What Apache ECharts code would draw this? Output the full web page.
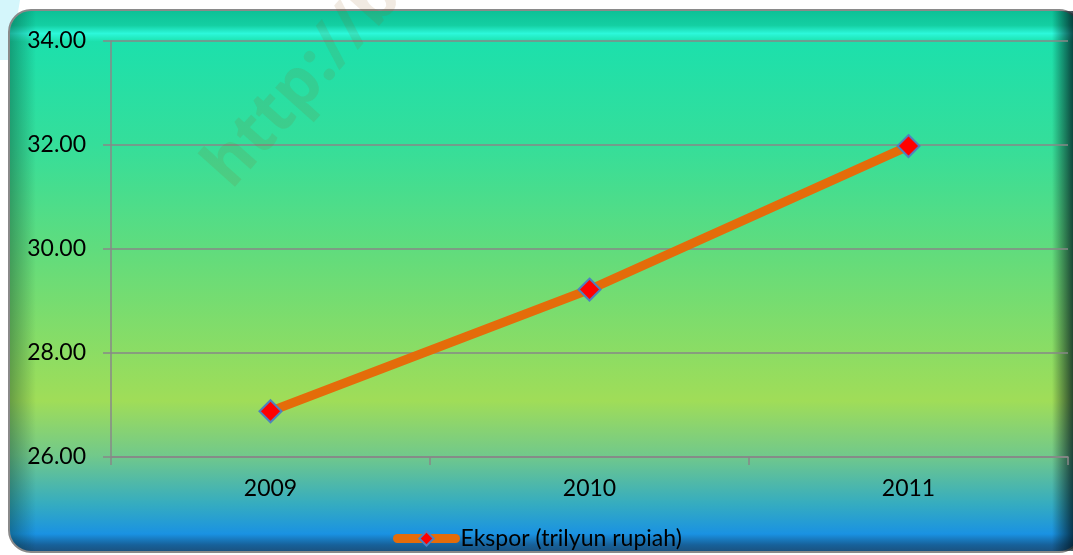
<!DOCTYPE html>
<html>
<head>
<meta charset="utf-8">
<script src="https://cdn.jsdelivr.net/npm/echarts@6/dist/echarts.min.js"></script>
<style>
html,body{margin:0;padding:0;background:#fff;}
#c{width:1073px;height:555px;}
</style>
</head>
<body>
<div id="c"></div>
<script>
var categories = ['2009', '2010', '2011'];
var exportValues = [26.88, 29.22, 31.98];
var seriesName = 'Ekspor (trilyun rupiah)';
var yMin = 26, yMax = 34, yStep = 2;

var chart = echarts.init(document.getElementById('c'));
var FONT = 'Lato, "Open Sans", sans-serif';

function vgrad(stops){ return new echarts.graphic.LinearGradient(0,0,0,1,stops); }
function hgrad(stops){ return new echarts.graphic.LinearGradient(0,0,1,0,stops); }

var option = {
  animation: false,
  backgroundColor: '#ffffff',
  graphic: [
    {type:'polygon', z:-11, shape:{points:[[0,0],[20,0],[10,60],[0,60]]},
     style:{fill:'#d4f6fb'}},
    {type:'rect', z:-10, shape:{x:9,y:10,width:1072,height:542,r:22},
     style:{fill: vgrad([
       {offset:0,color:'#0cbf95'},
       {offset:0.03,color:'#14cfa2'},
       {offset:0.045,color:'#2cf8da'},
       {offset:0.06,color:'#1ce0ac'},
       {offset:0.25,color:'#35de9a'},
       {offset:0.45,color:'#62dc7c'},
       {offset:0.72,color:'#a0dd58'},
       {offset:0.82,color:'#72c98a'},
       {offset:0.91,color:'#35acc0'},
       {offset:0.965,color:'#1a92e2'},
       {offset:0.985,color:'#17619a'},
       {offset:1,color:'#1b4f7a'}
     ]), stroke:'#8a8a8a', lineWidth:2}},
    {type:'rect', z:-9, shape:{x:10,y:11,width:26,height:540,r:[21,0,0,21]},
     style:{fill: hgrad([{offset:0,color:'rgba(0,40,30,0.35)'},{offset:1,color:'rgba(0,40,30,0)'}])}},
    {type:'rect', z:-9, shape:{x:1052,y:11,width:21,height:540},
     style:{fill: hgrad([{offset:0,color:'rgba(0,20,20,0)'},{offset:1,color:'rgba(0,20,30,0.75)'}])}},
    {type:'text', z:50, x:242, y:200, rotation:0.84,
     style:{text:'http://ba', font:'bold 66px "Open Sans", sans-serif', fill:'rgba(150,90,30,0.13)', textVerticalAlign:'bottom'}}
  ],
  grid: {left:111, right:5, top:41, bottom:98, containLabel:false},
  legend: {
    data:[seriesName], top:522, left:388,
    itemWidth:58, itemHeight:18,
    lineStyle:{width:9, cap:'round'},
    textStyle:{fontFamily:FONT, fontSize:23, color:'#000'}
  },
  xAxis: {
    type:'category', data:categories, boundaryGap:true,
    axisLine:{lineStyle:{color:'#888', width:1.5}},
    axisTick:{show:true, length:8, lineStyle:{color:'#888', width:1.5}},
    axisLabel:{fontFamily:FONT, fontSize:23, color:'#000', margin:20}
  },
  yAxis: {
    type:'value', min:yMin, max:yMax, interval:yStep,
    axisLine:{show:true, lineStyle:{color:'#888', width:1.5}},
    axisTick:{show:true, length:8, lineStyle:{color:'#888', width:1.5}},
    splitLine:{lineStyle:{color:'#878787', width:1.5}},
    axisLabel:{fontFamily:FONT, fontSize:23, color:'#000', margin:25,
      formatter:function(v){return v.toFixed(2);}}
  },
  series: [{
    name: seriesName, type:'line', data: exportValues,
    symbol:'diamond', symbolSize:22,
    itemStyle:{color:'#ff0000', borderColor:'#4f81bd', borderWidth:2},
    lineStyle:{color:'#e46c0a', width:9}
  }]
};
chart.setOption(option);
</script>
</body>
</html>
